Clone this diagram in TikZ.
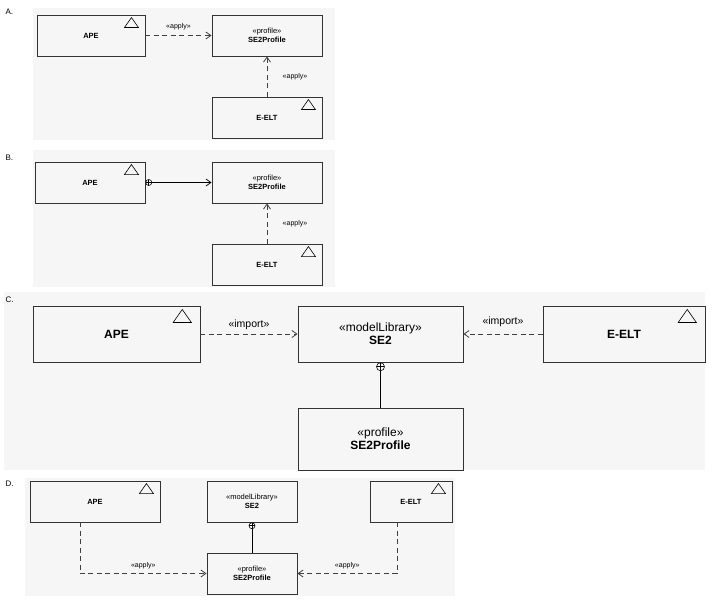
\documentclass[tikz,border=0pt]{standalone}
\usepackage{fontspec}
\setmainfont{Liberation Sans}
\usetikzlibrary{arrows.meta}
\newcommand{\tri}[2]{\draw[line width=0.6pt] ([shift={(-#2*21,#2*13)}]#1.north east) -- ++(#2*7,-#2*10) -- ++(#2*7,#2*10) -- cycle;}
\begin{document}
\begin{tikzpicture}[x=1pt, y=-1pt]
  \tikzset{box/.style={rectangle, draw=black!80, line width=0.9pt, inner sep=0pt, align=center, font=\bfseries\fontsize{7.5}{8.5}\selectfont},
           bigbox/.style={box, font=\bfseries\fontsize{12}{13}\selectfont},
           lbl/.style={font=\fontsize{7}{8}\selectfont},
           biglbl/.style={font=\fontsize{10.5}{11}\selectfont},
           dep/.style={dash pattern=on 5pt off 3.5pt, line width=0.8pt, draw=black!75, -{Straight Barb[length=5pt,width=7pt]}},
           oplus/.style={circle, draw, fill=white, line width=0.6pt, inner sep=0pt, minimum size=6pt,
             path picture={\draw (path picture bounding box.north) -- (path picture bounding box.south)
               (path picture bounding box.west) -- (path picture bounding box.east);}},
           tag/.style={font=\fontsize{8}{9}\selectfont, anchor=west}}
  \useasboundingbox (0,0) rectangle (713,602);
  % backgrounds
  \fill[gray!7] (33,8) rectangle (335,140);
  \fill[gray!7] (33,150) rectangle (335,287);
  \fill[gray!7] (4,292) rectangle (705,470);
  \fill[gray!7] (25,478) rectangle (455,596);

  % A.
  \node[tag] (ta) at (2,12) {A.};
  \node[box, minimum width=108, minimum height=41] (apeA) at (91,35.5) {APE};
  \node[box, minimum width=110, minimum height=41] (profA) at (267,35.5) {{\mdseries«profile»}\\SE2Profile};
  \node[box, minimum width=110, minimum height=41] (eeltA) at (267,117.5) {E-ELT};
  \tri{apeA}{1}
  \tri{eeltA}{1}
  \draw[dep] (apeA) -- node[lbl, above=2pt] {«apply»} (profA);
  \draw[dep] (eeltA) -- node[lbl, right=12pt] {«apply»} (profA);

  % B.
  \node[tag] (tb) at (2,158) {B.};
  \node[box, minimum width=110, minimum height=41] (apeB) at (90,182.5) {APE};
  \node[box, minimum width=110, minimum height=41] (profB) at (267,182.5) {{\mdseries«profile»}\\SE2Profile};
  \node[box, minimum width=110, minimum height=41] (eeltB) at (267,264.5) {E-ELT};
  \tri{apeB}{1}
  \tri{eeltB}{1}
  \node[oplus, anchor=west] (pB) at (apeB.east) {};
  \draw[line width=0.7pt, -{Straight Barb[length=5pt,width=7pt]}] (pB) -- (profB);
  \draw[dep] (eeltB) -- node[lbl, right=12pt] {«apply»} (profB);

  % C.
  \node[tag] (tc) at (2,300) {C.};
  \node[bigbox, minimum width=167, minimum height=56] (apeC) at (116.5,334) {APE};
  \node[bigbox, minimum width=165, minimum height=56] (libC) at (380.5,334) {{\mdseries«modelLibrary»}\\SE2};
  \node[bigbox, minimum width=162, minimum height=56] (eeltC) at (624,334) {E-ELT};
  \node[bigbox, minimum width=165, minimum height=62] (profC) at (380.5,439) {{\mdseries«profile»}\\SE2Profile};
  \tri{apeC}{1.3}
  \tri{eeltC}{1.3}
  \draw[dep] (apeC) -- node[biglbl, above=1pt] {«import»} (libC);
  \draw[dep] (eeltC) -- node[biglbl, above=4pt] {«import»} (libC);
  \node[oplus, minimum size=8pt, anchor=north] (pC) at (libC.south) {};
  \draw[line width=1pt] (pC) -- (profC);

  % D.
  \node[tag] (td) at (2,484) {D.};
  \node[box, minimum width=130, minimum height=41] (apeD) at (95,501.5) {APE};
  \node[box, minimum width=90, minimum height=41] (libD) at (252,501.5) {{\mdseries«modelLibrary»}\\SE2};
  \node[box, minimum width=82, minimum height=41] (eeltD) at (411,501.5) {E-ELT};
  \node[box, minimum width=90, minimum height=41] (profD) at (252,573.5) {{\mdseries«profile»}\\SE2Profile};
  \tri{apeD}{1}
  \tri{eeltD}{1}
  \node[oplus, anchor=north] (pD) at (libD.south) {};
  \draw[line width=0.8pt] (pD) -- (profD);
  \coordinate (cl) at (80,573.5);
  \coordinate (cr) at (397,573.5);
  \draw[dep] (apeD.south -| cl) |- node[lbl, pos=0.75, above=1pt] {«apply»} (profD.west);
  \draw[dep] (eeltD.south -| cr) |- node[lbl, pos=0.75, above=1pt] {«apply»} (profD.east);
\end{tikzpicture}
\end{document}
